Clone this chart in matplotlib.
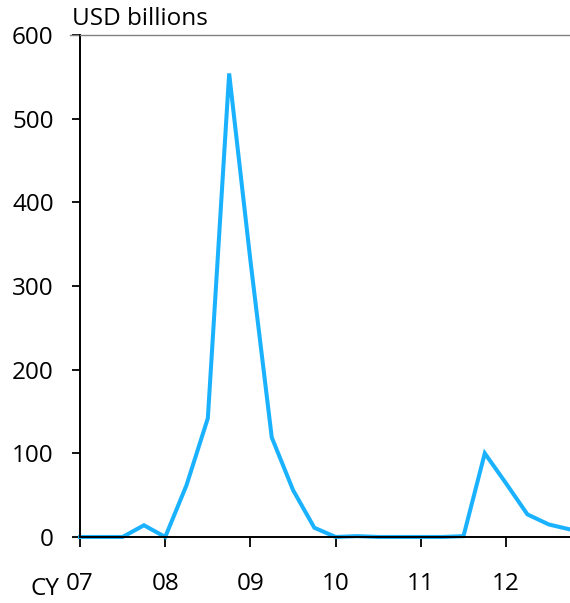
import matplotlib
matplotlib.use("Agg")
import matplotlib.pyplot as plt

plt.rcParams['font.family'] = ['Open Sans', 'DejaVu Sans']

# quarterly, 2007Q1 .. 2012Q4
quarters = [2007 + 0.25 * i for i in range(24)]
values = [0, 0, 0, 14,
          0, 62, 142, 554,
          330, 119, 56, 11,
          0, 1, 0, 0,
          0, 0, 1, 100,
          64, 27, 15, 9]
xtick_pos = [2007, 2008, 2009, 2010, 2011, 2012]
xtick_labels = ['07', '08', '09', '10', '11', '12']
yticks = [0, 100, 200, 300, 400, 500, 600]

fig = plt.figure(figsize=(5.7, 6.03), dpi=100)
ax = fig.add_axes([0.1404, 0.1095, 0.8596, 0.8325])

ax.plot(quarters, values, color='#1AB2FF', lw=2.9, solid_joinstyle='miter', clip_on=False)

ax.set_xlim(2007, 2012.75)
ax.set_ylim(0, 600)
ax.set_xticks(xtick_pos)
ax.set_xticklabels(xtick_labels)
ax.set_yticks(yticks)
ax.tick_params(axis='both', labelsize=17.5, direction='out', width=1.3, color='black')
ax.tick_params(axis='x', length=7.5, pad=18)
ax.tick_params(axis='y', length=6, pad=13)

ax.spines['right'].set_visible(False)
ax.spines['top'].set_color('#808080')
ax.spines['top'].set_linewidth(1.0)
ax.spines['left'].set_linewidth(1.4)
ax.spines['bottom'].set_linewidth(1.4)

# extend top line slightly to the left
ax.plot([-0.02, 0], [1, 1], transform=ax.transAxes, color='#808080', lw=1.0, clip_on=False)

fig.text(72 / 570, 1 - 19 / 603, 'USD billions', fontsize=17.5, ha='left', va='center')
fig.text(30 / 570, 1 - 589 / 603, 'CY', fontsize=17.5, ha='left', va='center')

fig.savefig('out.png', dpi=100)
